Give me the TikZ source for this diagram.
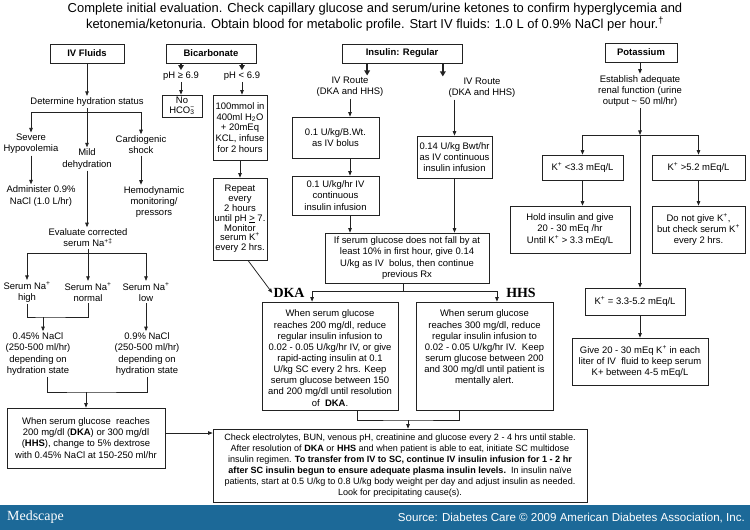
\documentclass[tikz,border=0pt]{standalone}
\usepackage{fontspec}
\setmainfont{Liberation Sans}
\newfontfamily\serifface{Liberation Serif}
\usetikzlibrary{arrows.meta}
\definecolor{lc}{HTML}{222222}
\definecolor{medblue}{RGB}{28,105,152}
\newcommand\bt{\fontsize{9.5}{11.2}\selectfont}
\tikzset{
  ln/.style={draw=lc, line width=0.75bp},
  arr/.style={ln, -{Triangle[length=4.5bp,width=3.5bp]}},
  barr/.style={draw=lc, line width=1.5bp, -{Triangle[length=5bp,width=5.5bp]}},
  box/.style={draw=lc, line width=0.75bp, inner sep=0pt, align=center, font=\bt},
  bx/.style 2 args={box, minimum width=#1bp, minimum height=#2bp},
  txt/.style={inner sep=1.5bp, align=center, font=\bt},
  lab/.style={inner sep=1bp, font=\serifface\bfseries\fontsize{14}{14}\selectfont},
}
\begin{document}
\begin{tikzpicture}[x=1bp,y=-1bp]
\useasboundingbox (0,0) rectangle (750,530);
\fill[white] (0,0) rectangle (750,530);
% header
\node[txt, font=\fontsize{13}{16}\selectfont] (hdr) at (375,17) {Complete initial evaluation. Check capillary glucose and serum/urine ketones to confirm hyperglycemia and\\ketonemia/ketonuria. Obtain blood for metabolic profile. Start IV fluids: 1.0 L of 0.9\% NaCl per hour.\textsuperscript{†}};
% ---------------- IV fluids
\node[bx={74}{19}, font=\bt\bfseries] (ivf) at (87,53.5) {IV Fluids};
\node[txt] (dhs) at (87,102) {Determine hydration status};
\coordinate (j1) at (87,112);
\node[txt] (sev) at (31,144) {Severe\\Hypovolemia};
\node[txt] (mild) at (87,159) {Mild\\dehydration};
\node[txt] (card) at (141,145) {Cardiogenic\\shock};
\node[txt] (adm) at (41,196) {Administer 0.9\%\\NaCl (1.0 L/hr)};
\node[txt] (hemo) at (154,202) {Hemodynamic\\monitoring/\\pressors};
\node[txt] (evl) at (88,238) {Evaluate corrected\\serum Na\textsuperscript{+‡}};
\coordinate (j2) at (88,253);
\node[txt] (nah) at (27,292) {Serum Na\textsuperscript{+}\\high};
\node[txt] (nan) at (88,292) {Serum Na\textsuperscript{+}\\normal};
\node[txt] (nal) at (146,292) {Serum Na\textsuperscript{+}\\low};
\coordinate (j3) at (43,317);
\node[txt] (s045) at (38,354) {0.45\% NaCl\\(250-500 ml/hr)\\depending on\\hydration state};
\node[txt] (s09) at (147,354) {0.9\% NaCl\\(250-500 ml/hr)\\depending on\\hydration state};
\coordinate (j4) at (86,392);
\node[bx={158}{60}] (gbox) at (86,438) {When serum glucose\ \ reaches\\200 mg/dl (\textbf{DKA}) or 300 mg/dl\\(\textbf{HHS}), change to 5\% dextrose\\with 0.45\% NaCl at 150-250 ml/hr};
% ---------------- Bicarbonate
\node[bx={90}{19}, font=\bt\bfseries] (bic) at (211,53.5) {Bicarbonate};
\node[txt] (ph1) at (181,76) {pH ≥ 6.9};
\node[txt] (ph2) at (242,76) {pH < 6.9};
\node[bx={40}{22}, font=\fontsize{9.5}{9.5}\selectfont] (nohco) at (182,106) {No\\HCO\rlap{\textsubscript{3}}\textsuperscript{−}};
\node[bx={54}{65}, font=\fontsize{9.5}{10.8}\selectfont] (mmol) at (240,127.5) {100mmol in\\400ml H\textsubscript{2}O\\+ 20mEq\\KCL, infuse\\for 2 hours};
\node[bx={54}{82}, font=\fontsize{9.5}{9.8}\selectfont] (rep) at (240,219) {Repeat\\every\\2 hours\\until pH \underline{>} 7.\\Monitor\\serum K\textsuperscript{+}\\every 2 hrs.};
\node[lab] (dka) at (289,293) {DKA};
\node[lab] (hhs) at (521,293) {HHS};
% ---------------- Insulin
\node[bx={120}{19}, font=\bt\bfseries] (ins) at (402,53.5) {Insulin: Regular};
\node[txt] (ivr1) at (350,87) {IV Route\\(DKA and HHS)};
\node[txt] (ivr2) at (482,88) {IV Route\\(DKA and HHS)};
\node[bx={87}{41}] (bolus) at (335.5,137.5) {0.1 U/kg/B.Wt.\\as IV bolus};
\node[bx={87}{39}] (cont) at (335.5,195.5) {0.1 U/kg/hr IV\\continuous\\insulin infusion};
\node[bx={75}{42}] (b014) at (454.5,157) {0.14 U/kg Bwt/hr\\as IV continuous\\insulin infusion};
\node[bx={164}{50}] (ifb) at (407,258) {If serum glucose does not fall by at\\least 10\% in first hour, give 0.14\\U/kg as IV\ \ bolus, then continue\\previous Rx};
\coordinate (jd) at (403,291);
\node[box] (dkab) at (330,356) {\parbox[c][108bp][t]{136bp}{\centering\vspace{8bp}When serum glucose\\reaches 200 mg/dl, reduce\\regular insulin infusion to\\0.02 - 0.05 U/kg/hr IV, or give\\rapid-acting insulin at 0.1\\U/kg SC every 2 hrs. Keep\\serum glucose between 150\\and 200 mg/dl until resolution\\of\ \ \textbf{DKA}.}};
\node[box] (hhsb) at (484.5,356) {\parbox[c][108bp][t]{137bp}{\centering\vspace{8bp}When serum glucose\\reaches 300 mg/dl, reduce\\regular insulin infusion to\\0.02 - 0.05 U/kg/hr IV.\ \ Keep\\serum glucose between 200\\and 300 mg/dl until patient is\\mentally alert.}};
\coordinate (jf) at (408,420);
\node[bx={374}{73}, font=\fontsize{9.1}{11}\selectfont] (fin) at (400,465.5) {Check electrolytes, BUN, venous pH, creatinine and glucose every 2 - 4 hrs until stable.\\After resolution of \textbf{DKA} or \textbf{HHS} and when patient is able to eat, initiate SC multidose\\insulin regimen. \textbf{To transfer from IV to SC, continue IV insulin infusion for 1 - 2 hr}\\\textbf{after SC insulin begun to ensure adequate plasma insulin levels.}\ \ In insulin naïve\\patients, start at 0.5 U/kg to 0.8 U/kg body weight per day and adjust insulin as needed.\\Look for precipitating cause(s).};
% ---------------- Potassium
\node[bx={72}{19}, font=\bt\bfseries] (pot) at (641,52.5) {Potassium};
\node[txt] (est) at (640,91) {Establish adequate\\renal function (urine\\output \textasciitilde\ 50 ml/hr)};
\coordinate (jk) at (640,135);
\node[bx={81}{25}] (kl) at (582.5,167.5) {K\textsuperscript{+} <3.3 mEq/L};
\node[bx={93}{25}] (kh) at (698.5,167.5) {K\textsuperscript{+} >5.2 mEq/L};
\node[bx={120}{47}] (hold) at (570,229.5) {Hold insulin and give\\20 - 30 mEq /hr\\Until K\textsuperscript{+} > 3.3 mEq/L};
\node[bx={93}{47}] (dng) at (698.5,229.5) {Do not give K\textsuperscript{+},\\but check serum K\textsuperscript{+}\\every 2 hrs.};
\node[bx={100}{27}] (kmid) at (635,301.5) {K\textsuperscript{+} = 3.3-5.2 mEq/L};
\node[bx={136}{47}] (give) at (640,361.5) {Give 20 - 30 mEq K\textsuperscript{+} in each\\liter of IV\ \ fluid to keep serum\\K+ between 4-5 mEq/L};
% ---------------- footer
\fill[medblue] (0,505) rectangle (750,530);
\node[font=\serifface\fontsize{14}{14}\selectfont, text=white, anchor=west, inner sep=0pt] (logo) at (7,517) {Medscape};
\node[font=\fontsize{11.6}{11.6}\selectfont, text=white, anchor=east, inner sep=0pt] (src) at (745,518) {Source: Diabetes Care © 2009 American Diabetes Association, Inc.};
% ---------------- connectors: IV
\draw[arr] (ivf) -- (dhs);
\draw[ln] (dhs) -- (j1);
\draw[arr] (j1) -- (mild);
\draw[arr] (j1) -| (sev);
\draw[arr] (j1) -| (card);
\draw[arr] (sev) -- (sev |- adm.north);
\draw[arr] (card) -- (card |- hemo.north);
\draw[arr] (mild) -- (mild |- evl.north);
\draw[ln] (evl) -- (j2);
\draw[arr] (j2) -- (nan);
\draw[arr] (j2) -| (nah);
\draw[arr] (j2) -| (nal);
\draw[ln] (nah.south) |- (j3) -| (nan.south);
\draw[arr] (j3) -- (j3 |- s045.north);
\draw[arr] (nal) -- (nal |- s09.north);
\draw[ln] ([xshift=9]s045.south) |- (j4) -| (s09.south);
\draw[arr] (j4) -- (gbox);
\draw[arr] ([yshift=5]gbox.east) -- ([yshift=5]gbox.east -| fin.west);
% bicarbonate
\draw[barr] (bic.south -| ph1) -- (ph1);
\draw[barr] (bic.south -| ph2) -- (ph2);
\draw[arr] (ph1) -- (ph1 |- nohco.north);
\draw[arr] (ph2) -- (ph2 |- mmol.north);
\draw[arr] (mmol) -- (rep);
\draw[arr] ([xshift=8]rep.south) -- (dka.west);
% insulin
\draw[barr] ([xshift=-35]ins.south) -- ([xshift=-35]ins.south |- ivr1.north);
\draw[barr] ([xshift=41]ins.south) -- ([xshift=41]ins.south |- ivr2.north);
\draw[arr] (ivr1) -- (ivr1 |- bolus.north);
\draw[arr] (ivr1 |- bolus.south) -- (ivr1 |- cont.north);
\draw[arr] (ivr1 |- cont.south) -- (ivr1 |- ifb.north);
\draw[arr] (b014.north |- ivr2.south) -- (b014);
\draw[arr] (b014) -- (b014 |- ifb.north);
\draw[ln] (ifb.south -| jd) -- (jd);
\draw[arr] (jd) -| ([xshift=-18]dkab.north);
\draw[arr] (jd) -| ([xshift=12.5]hhsb.north);
\draw[ln] ([xshift=27]dkab.south) |- (jf) -| ([xshift=-25.5]hhsb.south);
\draw[arr] (jf) -- (jf |- fin.north);
% potassium
\draw[arr] (pot.south -| est) -- (est);
\draw[arr] (est) -- (jk);
\draw[arr] (jk) -| (kl);
\draw[arr] (jk) -| (kh);
\draw[arr] (jk) -- (jk |- kmid.north);
\draw[arr] (kl) -- (kl |- hold.north);
\draw[arr] (kh) -- (dng);
\draw[arr] (jk |- kmid.south) -- (jk |- give.north);
\end{tikzpicture}
\end{document}
